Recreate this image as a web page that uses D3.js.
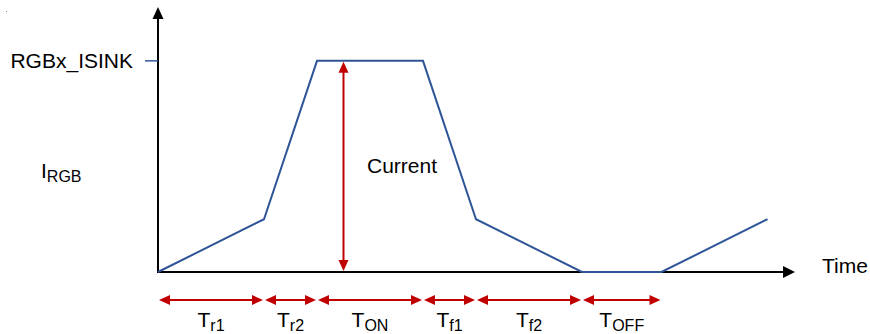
<!DOCTYPE html>
<html>
<head>
<meta charset="utf-8">
<script src="https://cdn.jsdelivr.net/npm/d3@7"></script>
<style>
html,body{margin:0;padding:0;background:#fff;}
svg{display:block;}
text{font-family:Arial,"Liberation Sans",sans-serif;fill:#000;}
</style>
</head>
<body>
<svg id="chart" width="870" height="334"></svg>
<script>
// ---- data ----
const times    = [0, 2, 3, 5, 6, 8, 9.5, 11.5];          // waveform break points (time units)
const current  = [0, 0.25, 1, 1, 0.25, 0, 0, 0.25];       // normalised current
const phaseEdges = [0, 2, 3, 5, 6, 8, 9.5];               // phase boundaries
const phaseMain  = ["T", "T", "T", "T", "T", "T"];
const phaseSub   = ["r1", "r2", "ON", "f1", "f2", "OFF"];
const levelLabel = "RGBx_ISINK";
const levelValue = 1;
const currentAt  = 3.5;   // time of the "Current" arrow
const xMax = 12, yMax = 1.255;

// ---- scales ----
const svg = d3.select("#chart");
const x = d3.scaleLinear().domain([0, xMax]).range([158, 794]);
const y = d3.scaleLinear().domain([0, yMax]).range([272, 7]);

const blue = "#2f5597", red = "#c00000";
const mainSize = 21, subSize = 16;

// stray dot in top-left corner
svg.append("rect").attr("x", 6).attr("y", 11).attr("width", 1).attr("height", 1).attr("fill", "#777");

// axes
svg.append("line").attr("x1", x(0)).attr("x2", x(0)).attr("y1", y(0)+1).attr("y2", y(yMax)+10)
  .attr("stroke", "#000").attr("stroke-width", 2);
svg.append("polygon")
  .attr("points", [[x(0), y(yMax)], [x(0)-5.5, y(yMax)+12], [x(0)+5.5, y(yMax)+12]].join(" "))
  .attr("fill", "#000");
svg.append("line").attr("x1", x(0)-1).attr("x2", x(xMax)-10).attr("y1", y(0)).attr("y2", y(0))
  .attr("stroke", "#000").attr("stroke-width", 2);
svg.append("polygon")
  .attr("points", [[x(xMax)+1, y(0)], [x(xMax)-11, y(0)-6], [x(xMax)-11, y(0)+6]].join(" "))
  .attr("fill", "#000");

// level tick + label
svg.append("line").attr("x1", x(0)-13).attr("x2", x(0)).attr("y1", y(levelValue)).attr("y2", y(levelValue))
  .attr("stroke", blue).attr("stroke-width", 1.5);
svg.append("text").attr("x", 133).attr("y", y(levelValue)+7).attr("text-anchor", "end")
  .attr("font-size", mainSize).text(levelLabel);

// y label I_RGB
const yl = svg.append("text").attr("x", 41).attr("y", 178).attr("font-size", mainSize);
yl.append("tspan").text("I");
yl.append("tspan").attr("font-size", subSize).attr("dy", 4).text("RGB");

// x label
svg.append("text").attr("x", 822).attr("y", 273).attr("font-size", mainSize).text("Time");

// waveform
const line = d3.line().x(d => x(d[0])).y(d => y(d[1]));
svg.append("path").datum(times.map((t, i) => [t, current[i]]))
  .attr("d", line).attr("fill", "none").attr("stroke", blue).attr("stroke-width", 2)
  .attr("stroke-linejoin", "miter");

// double-headed arrow helpers
function hArrow(x1, x2, yy) {
  const L = 11, W = 5;
  svg.append("line").attr("x1", x1 + L - 1).attr("x2", x2 - L + 1).attr("y1", yy).attr("y2", yy)
    .attr("stroke", red).attr("stroke-width", 2);
  svg.append("polygon").attr("points", [[x1, yy], [x1+L, yy-W], [x1+L, yy+W]].join(" ")).attr("fill", red);
  svg.append("polygon").attr("points", [[x2, yy], [x2-L, yy-W], [x2-L, yy+W]].join(" ")).attr("fill", red);
}
function vArrow(xx, y1, y2) {
  const L = 11, W = 5;
  svg.append("line").attr("x1", xx).attr("x2", xx).attr("y1", y1 + L - 1).attr("y2", y2 - L + 1)
    .attr("stroke", red).attr("stroke-width", 2);
  svg.append("polygon").attr("points", [[xx, y1], [xx-W, y1+L], [xx+W, y1+L]].join(" ")).attr("fill", red);
  svg.append("polygon").attr("points", [[xx, y2], [xx-W, y2-L], [xx+W, y2-L]].join(" ")).attr("fill", red);
}

// current arrow
vArrow(x(currentAt), y(levelValue) + 1, y(0) - 1);
svg.append("text").attr("x", 367).attr("y", 173).attr("font-size", mainSize).text("Current");

// phase arrows + labels
const arrowY = 300;
for (let i = 0; i < phaseSub.length; i++) {
  const a = x(phaseEdges[i]) + 1, b = x(phaseEdges[i+1]) - 1;
  hArrow(a, b, arrowY);
  const t = svg.append("text").attr("x", (a + b) / 2).attr("y", 327)
    .attr("text-anchor", "middle").attr("font-size", mainSize);
  t.append("tspan").text(phaseMain[i]);
  t.append("tspan").attr("font-size", subSize).attr("dy", 4).text(phaseSub[i]);
}
</script>
</body>
</html>
